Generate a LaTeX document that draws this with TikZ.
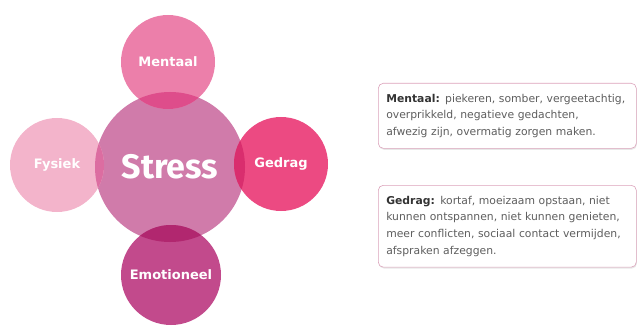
\documentclass[tikz,border=0pt]{standalone}
\usepackage{fontspec}
\setmainfont{Fira Sans}
\newfontfamily\boxfont{DejaVu Sans}
\usepackage{tikz}
\usetikzlibrary{shadows}

\definecolor{stresspink}{HTML}{D07BAA}
\definecolor{mentpink}{HTML}{EC7FAA}
\definecolor{fyspink}{HTML}{F3B4CB}
\definecolor{gedpink}{HTML}{EC4A82}
\definecolor{emopink}{HTML}{C24A8C}
\definecolor{mentover}{HTML}{DE4D8B}
\definecolor{fysover}{HTML}{DC6DA1}
\definecolor{gedover}{HTML}{D92E6E}
\definecolor{emoover}{HTML}{B1276F}
\definecolor{boxline}{HTML}{DCA3BB}
\definecolor{boxtext}{HTML}{5E5E5E}

\tikzset{
  bubble/.style={circle, inner sep=0pt, minimum size=94pt, text=white,
    font=\boxfont\bfseries\fontsize{13}{15}\selectfont},
  infobox/.style={draw=boxline, line width=0.6pt, rounded corners=5pt, fill=white,
    anchor=north west, align=left, text width=242pt, inner xsep=8pt, inner ysep=10.5pt,
    text=boxtext, font=\boxfont\fontsize{10.8}{16.8}\selectfont,
    drop shadow={opacity=0.18, shadow xshift=0.6pt, shadow yshift=-1.4pt}}
}

\begin{document}
\begin{tikzpicture}[x=1pt,y=-1pt]
      \useasboundingbox (0,0) rectangle (638,329);
      % circles
      \node[bubble, fill=stresspink, minimum size=150pt,
        font=\bfseries\fontsize{34}{36}\selectfont] (stress) at (170,167) {Stress};
      \node[bubble, fill=mentpink] (mentaal) at (168,62) {Mentaal};
      \node[bubble, fill=fyspink] (fysiek) at (57,165) {Fysiek};
      \node[bubble, fill=gedpink] (gedrag) at (281,164) {Gedrag};
      \node[bubble, fill=emopink, minimum size=100pt] (emotioneel) at (171,275) {Emotioneel};
      % overlaps
      \begin{scope}
        \clip (stress) circle[radius=75pt];
        \fill[mentover] (mentaal) circle[radius=47pt];
        \fill[fysover] (fysiek) circle[radius=47pt];
        \fill[gedover] (gedrag) circle[radius=47pt];
        \fill[emoover] (emotioneel) circle[radius=50pt];
      \end{scope}
      % text boxes
      \node[infobox] (mentbox) at (378,83) {\textbf{\color{black!80}Mentaal:} piekeren, somber, vergeetachtig,\\
        overprikkeld, negatieve gedachten,\\
        afwezig zijn, overmatig zorgen maken.};
      \node[infobox] (gedbox) at (378,185) {\textbf{\color{black!80}Gedrag:} kortaf, moeizaam opstaan, niet\\
        kunnen ontspannen, niet kunnen genieten,\\
        meer conflicten, sociaal contact vermijden,\\
        afspraken afzeggen.};
\end{tikzpicture}
\end{document}
